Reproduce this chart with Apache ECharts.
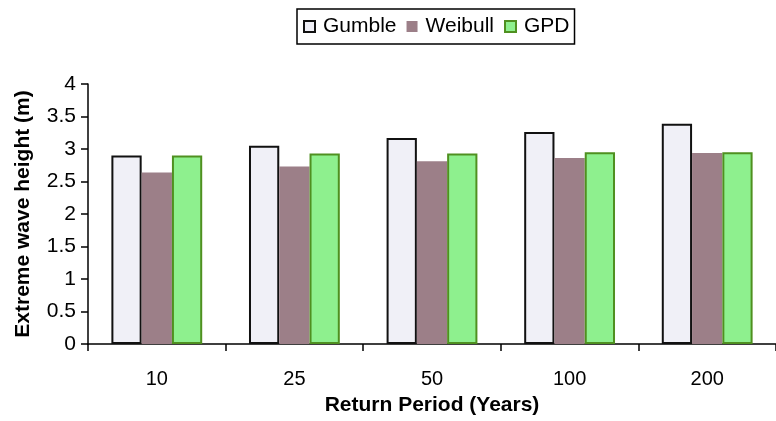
<!DOCTYPE html>
<html>
<head>
<meta charset="utf-8">
<script src="https://cdn.jsdelivr.net/npm/echarts@6/dist/echarts.min.js"></script>
<style>
html,body{margin:0;padding:0;background:#fff;}
#c{width:776px;height:421px;}
</style>
</head>
<body>
<div id="c"></div>
<script>
const categories = ['10', '25', '50', '100', '200'];
const gumble = [2.90, 3.05, 3.17, 3.26, 3.39];
const weibull = [2.64, 2.73, 2.81, 2.86, 2.94];
const gpd = [2.90, 2.93, 2.93, 2.95, 2.95];

const font = 'Liberation Sans, Arial, sans-serif';
const chart = echarts.init(document.getElementById('c'));
chart.setOption({
  animation: false,
  backgroundColor: '#fff',
  legend: {
    top: 9,
    left: 297,
    padding: [7, 5, 7, 6],
    borderColor: '#000',
    borderWidth: 1.5,
    borderRadius: 0,
    itemWidth: 11,
    itemHeight: 11,
    itemGap: 10,
    icon: 'rect',
    textStyle: {fontFamily: font, fontSize: 21, color: '#000', padding: [0, 0, 0, 3]},
    data: ['Gumble', 'Weibull', 'GPD']
  },
  grid: {left: 88, top: 84, width: 697, height: 261, containLabel: false},
  xAxis: {
    type: 'category',
    data: categories,
    name: 'Return Period (Years)',
    nameLocation: 'middle',
    nameGap: 51,
    nameTextStyle: {fontFamily: font, fontSize: 21, fontWeight: 'bold', color: '#000'},
    axisLine: {lineStyle: {color: '#000', width: 1.5}},
    axisTick: {show: true, length: 7, lineStyle: {color: '#000', width: 1.5}},
    axisLabel: {fontFamily: font, fontSize: 20, color: '#000', margin: 25}
  },
  yAxis: {
    type: 'value',
    min: 0, max: 4, interval: 0.5,
    name: 'Extreme wave height (m)',
    nameLocation: 'middle',
    nameGap: 54,
    nameTextStyle: {fontFamily: font, fontSize: 21, fontWeight: 'bold', color: '#000'},
    splitLine: {show: false},
    axisLine: {show: true, lineStyle: {color: '#000', width: 1.5}},
    axisTick: {show: true, length: 7, lineStyle: {color: '#000', width: 1.5}},
    axisLabel: {fontFamily: font, fontSize: 21, color: '#000', margin: 12}
  },
  series: [
    {name: 'Gumble', type: 'bar', data: gumble, barGap: '0%', barCategoryGap: '34%',
     itemStyle: {color: '#f0f0f7', borderColor: '#111', borderWidth: 2}},
    {name: 'Weibull', type: 'bar', data: weibull,
     itemStyle: {color: '#9c7f88', borderColor: '#9c7f88', borderWidth: 0}},
    {name: 'GPD', type: 'bar', data: gpd,
     itemStyle: {color: '#8ef08e', borderColor: '#4f9020', borderWidth: 2}}
  ]
});
</script>
</body>
</html>
